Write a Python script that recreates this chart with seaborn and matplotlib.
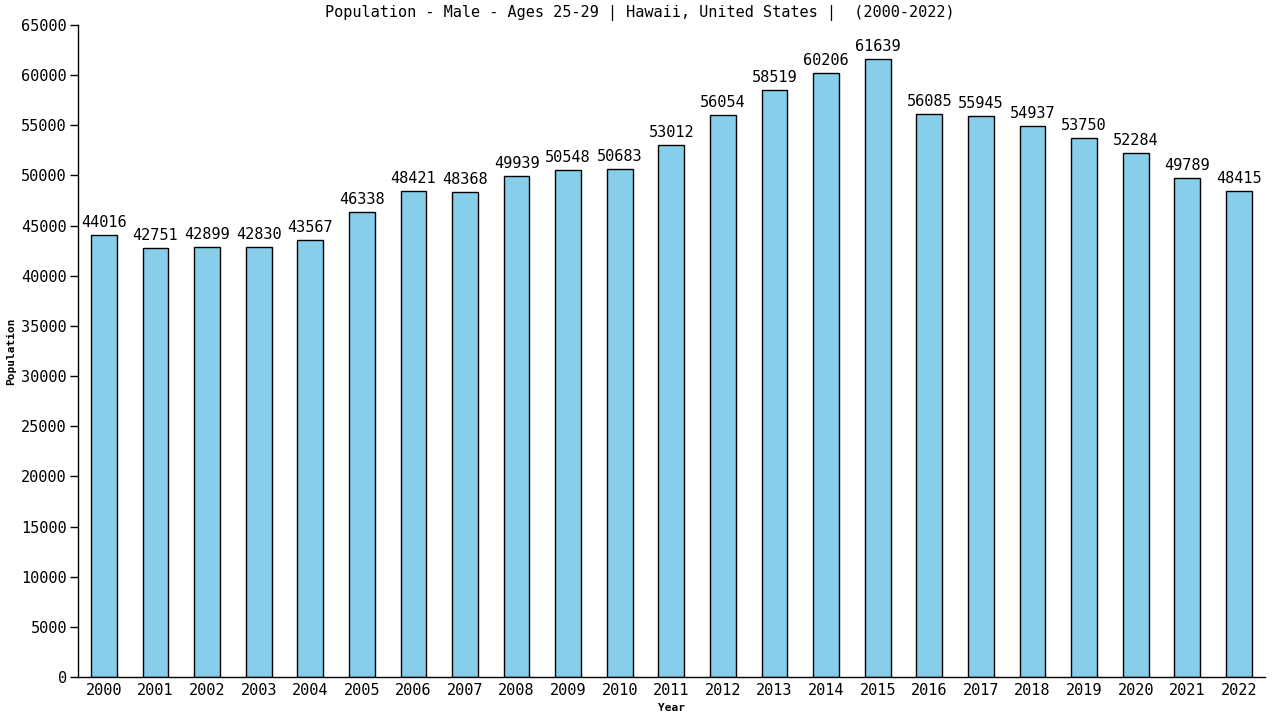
import matplotlib
matplotlib.use("Agg")
import matplotlib.pyplot as plt
import seaborn as sns
import pandas as pd

years = [str(y) for y in range(2000, 2023)]
population = [44016, 42751, 42899, 42830, 43567, 46338, 48421, 48368, 49939, 50548,
              50683, 53012, 56054, 58519, 60206, 61639, 56085, 55945, 54937, 53750,
              52284, 49789, 48415]

sns.set_theme(style="white")
plt.rcParams['font.family'] = ['DejaVu Sans Mono', 'DejaVu Sans']
plt.rcParams['text.color'] = 'black'
plt.rcParams['axes.labelcolor'] = 'black'
plt.rcParams['xtick.color'] = 'black'
plt.rcParams['ytick.color'] = 'black'

df = pd.DataFrame({"Year": years, "Population": population})

fig = plt.figure(figsize=(12.8, 7.2), dpi=100)
ax = fig.add_axes([0.061, 0.0597, 0.927, 0.9056])
sns.barplot(data=df, x="Year", y="Population", color="#87CEEB", saturation=1,
            width=0.5, edgecolor="black", linewidth=1, ax=ax)
for i, v in enumerate(population):
    ax.text(i, v + 500, str(v), ha="center", va="bottom", fontsize=11, color="black")

ax.set_xlim(-0.5, 22.5)
ax.set_ylim(0, 65000)
ax.set_yticks(range(0, 65001, 5000))
ax.tick_params(axis="y", direction="out", length=6, width=1, colors="black", labelsize=11, pad=2, left=True)
ax.tick_params(axis="x", length=0, labelsize=11, pad=4, colors="black")
for s in ["top", "right"]:
    ax.spines[s].set_visible(False)
for s in ["left", "bottom"]:
    ax.spines[s].set_color("black")
    ax.spines[s].set_linewidth(1)
ax.set_xlabel("Year", fontsize=8, fontweight="bold", labelpad=4, color="black")
ax.set_ylabel("Population", fontsize=8, fontweight="bold", labelpad=4, color="black")
fig.text(0.5, 0.993, "Population - Male - Ages 25-29 | Hawaii, United States |  (2000-2022)",
         fontsize=11, ha="center", va="top", color="black")
fig.savefig("out.png", dpi=100)
